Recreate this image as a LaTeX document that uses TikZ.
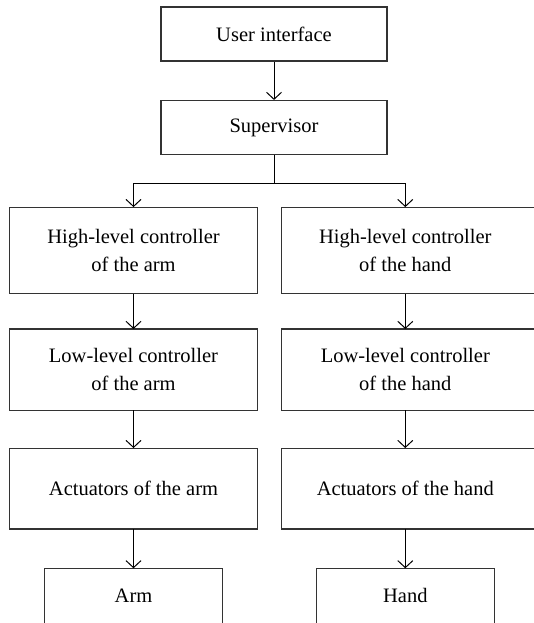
\documentclass[tikz,border=0pt]{standalone}
\usepackage{fontspec}
\setmainfont{Liberation Serif}
\usetikzlibrary{arrows.meta}

\tikzset{
	rahmen/.style={draw=black!80,line width=1.1pt},
	kasten/.style={align=center,inner sep=0pt,font=\fontsize{20.5}{28}\selectfont},
	pfeil/.style={line width=1pt,-{Straight Barb[length=7pt,width=15pt]}}
}

\begin{document}
\begin{tikzpicture}[x=1pt,y=-1pt]
		    \useasboundingbox (0,0) rectangle (533,623);
		%Obere Kaesten
		    \node[kasten,rahmen,minimum width=226pt,minimum height=54pt] (ui) at (274,34) {User interface};
		    \node[kasten,rahmen,minimum width=226pt,minimum height=54pt] (sup) at (274,127.5) {Supervisor};
		    \coordinate (verzw) at (274,183);
		%Zwei Zweige (rechte Kaesten laufen ueber den Rand)
		    \foreach \n/\x/\e/\s in {a/133.5/0/arm,h/405.3/8/hand}
		    {
		    	\node[kasten,minimum width=248pt,minimum height=86pt] (hl\n) at (\x,250.3) {High-level controller\\of the \s};
		    	\node[kasten,minimum width=248pt,minimum height=81pt] (ll\n) at (\x,369.7) {Low-level controller\\of the \s};
		    	\node[kasten,minimum width=248pt,minimum height=80.5pt] (ac\n) at (\x,488.5) {Actuators of the \s};
		    	\foreach \k in {hl,ll,ac}
		    		\draw[rahmen] (\k\n.north west) rectangle ([xshift=\e pt]\k\n.south east);
		    }
		    \node[kasten,rahmen,minimum width=178pt,text height=14pt,text depth=26pt,inner ysep=20pt,anchor=north] (arm) at (133.5,568.3) {Arm};
		    \node[kasten,rahmen,minimum width=178pt,text height=14pt,text depth=26pt,inner ysep=20pt,anchor=north] (hand) at (405.3,568.3) {Hand};
		%Pfeile
		    \draw[pfeil] (ui) -- (sup);
		    \draw[pfeil] (sup) -- (verzw) -| (hla);
		    \draw[pfeil] (verzw) -| (hlh);
		    \foreach \n in {a,h}
		    {
		    	\draw[pfeil] (hl\n) -- (ll\n);
		    	\draw[pfeil] (ll\n) -- (ac\n);
		    }
		    \draw[pfeil] (aca) -- (arm);
		    \draw[pfeil] (ach) -- (hand);
	\end{tikzpicture}
\end{document}
